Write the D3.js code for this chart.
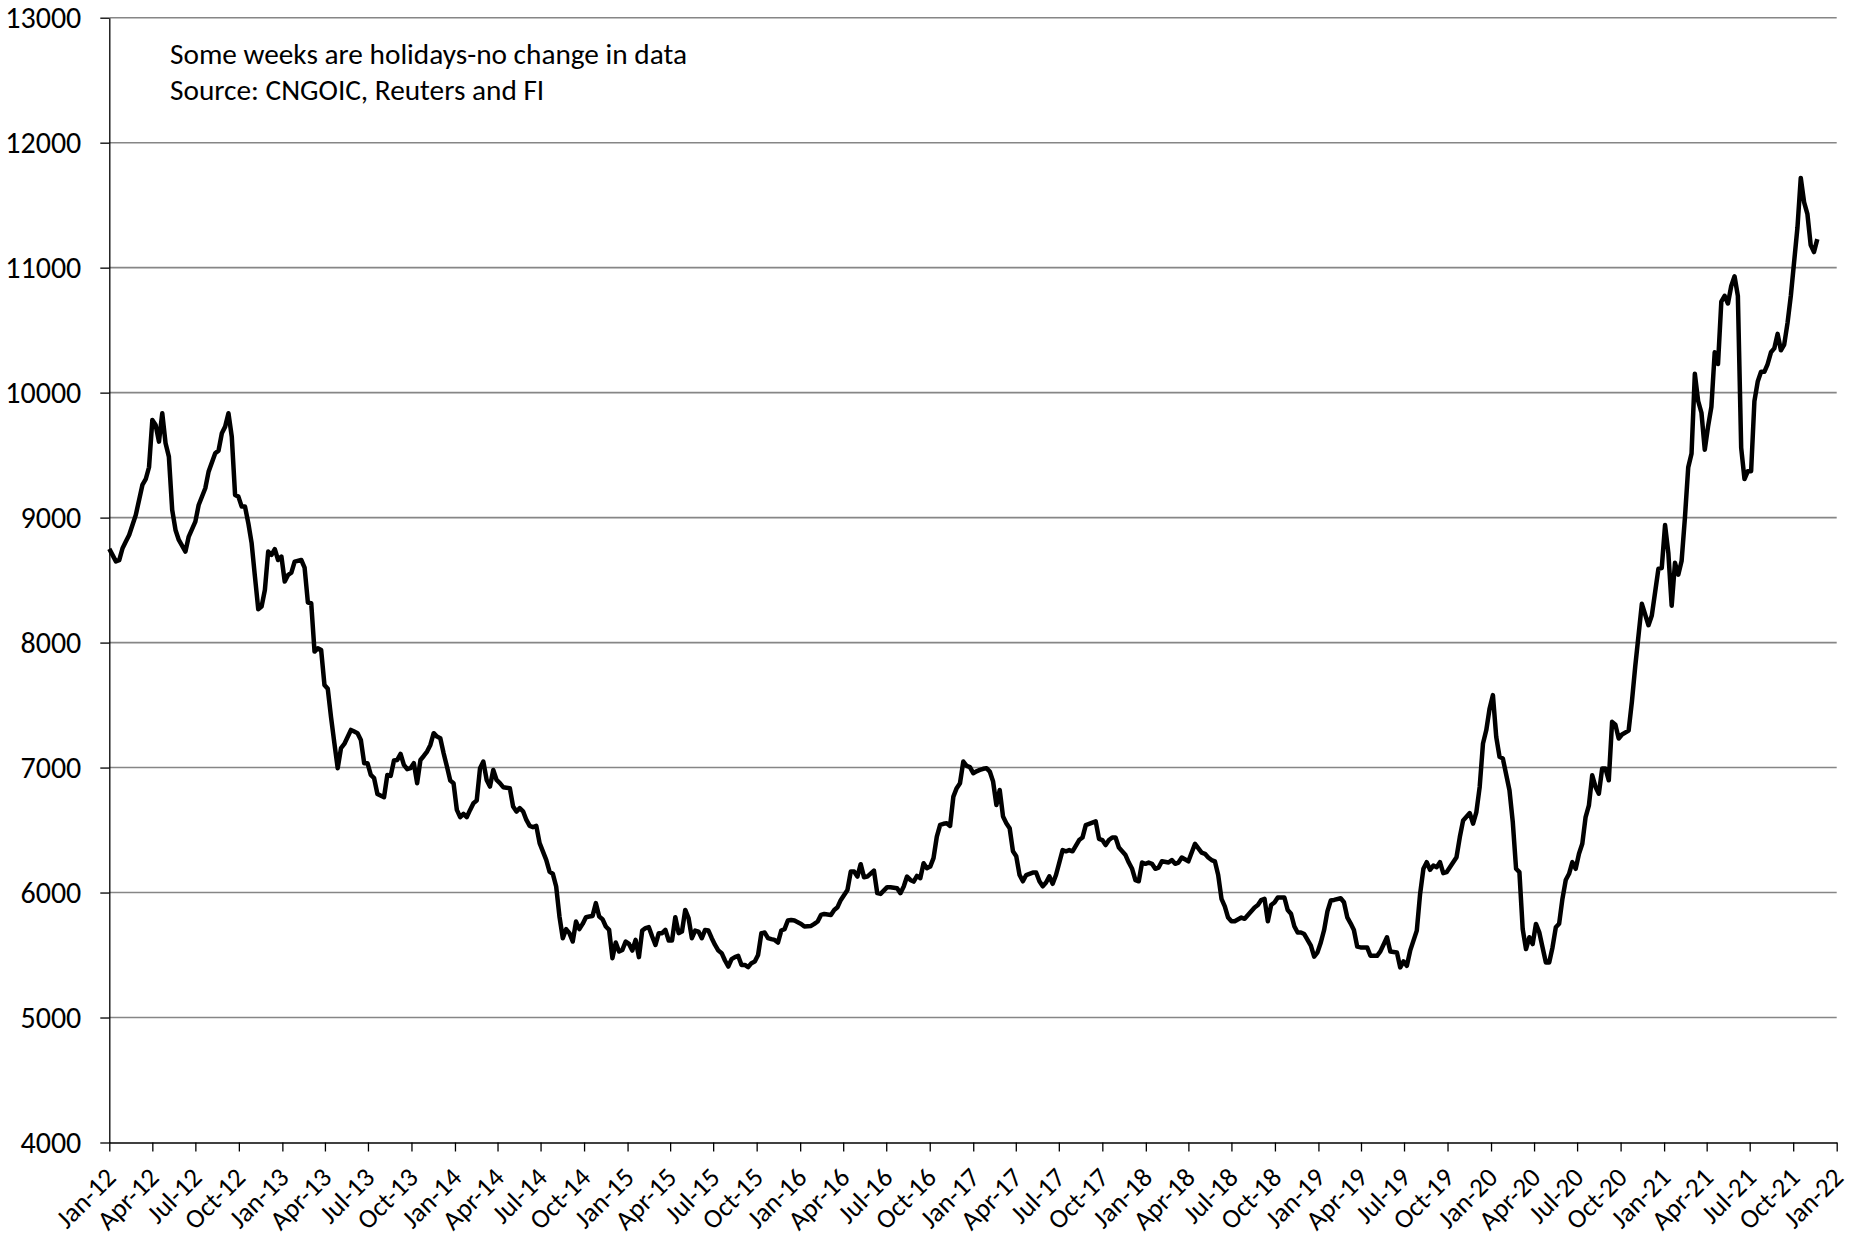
<!DOCTYPE html>
<html><head><meta charset="utf-8">
<script src="https://cdn.jsdelivr.net/npm/d3@7"></script>
<style>
html,body{margin:0;padding:0;background:#fff;}
svg{display:block;}
</style>
</head><body>
<svg id="chart" width="1860" height="1242"></svg>
<script>
// ---- data (weekly observations; week number counted from 1 Jan 2012) ----
const weekNo = [0,2,3,4,5,6,8,9,10,11,12,13,14,15,16,17,18,19,20,21,23,24,26,27,29,30,32,33,34,35,36,37,38,39,40,41,42,43,44,45,46,47,48,49,50,51,52,53,54,55,56,58,59,60,61,62,63,64,65,66,67,68,69,70,71,73,74,75,76,77,78,79,80,81,83,84,85,86,87,88,89,90,91,92,93,94,95,96,97,98,99,100,101,102,103,104,105,106,107,108,109,110,111,112,113,114,115,116,117,118,119,121,122,123,124,125,126,127,128,129,130,132,133,134,135,136,137,138,139,140,141,142,143,144,145,146,147,148,149,150,151,152,153,154,155,156,157,158,159,160,161,162,163,164,165,166,167,168,169,170,171,172,173,174,175,176,177,178,179,180,181,182,183,184,185,186,187,188,189,190,191,192,193,194,195,196,197,198,199,200,201,202,203,204,205,206,207,209,210,212,213,214,215,216,218,219,220,221,222,223,224,225,226,227,228,229,231,232,233,235,236,238,239,240,241,242,243,244,245,246,247,248,249,250,251,252,253,254,255,256,257,258,259,260,261,262,263,264,265,266,267,268,269,270,271,272,273,274,275,276,277,279,280,281,282,283,284,285,286,287,288,289,290,291,293,294,295,296,297,298,299,300,301,302,303,304,305,306,307,308,309,310,311,312,313,314,315,316,317,318,320,321,322,323,324,326,328,330,331,332,333,334,335,336,337,338,339,340,342,343,344,345,346,347,348,349,350,351,352,353,355,356,357,358,359,360,361,363,364,365,366,367,368,369,370,372,373,374,375,376,377,378,380,381,383,384,386,387,389,390,391,392,393,395,396,397,398,399,400,401,402,403,404,405,407,408,409,411,412,413,414,415,416,417,418,419,420,421,423,424,425,426,427,428,429,430,431,432,433,434,435,436,437,438,439,440,441,442,443,444,445,446,447,448,449,450,451,452,453,454,455,456,457,459,460,461,463,465,466,467,468,469,470,471,472,473,474,475,476,477,478,479,480,481,482,483,484,485,486,487,488,489,490,491,492,493,494,495,496,497,498,499,500,501,502,503,504,505,506,507,508,510,511,512,513,514,515,516];
const price = [8750,8650,8660,8755,8808,8861,9021,9141,9261,9307,9403,9781,9741,9608,9835,9595,9488,9061,8901,8821,8728,8848,8968,9101,9235,9368,9515,9536,9675,9728,9835,9648,9181,9168,9088,9088,8955,8795,8528,8267,8288,8421,8728,8701,8747,8661,8688,8488,8541,8560,8648,8661,8600,8320,8315,7928,7955,7941,7661,7630,7400,7195,6995,7155,7189,7301,7288,7275,7221,7035,7035,6941,6915,6789,6763,6941,6933,7056,7061,7109,7021,6987,6995,7035,6875,7061,7093,7128,7181,7275,7248,7235,7115,7008,6896,6875,6661,6603,6629,6603,6661,6715,6736,6995,7048,6901,6848,6981,6901,6875,6843,6835,6688,6648,6675,6650,6581,6533,6523,6533,6395,6261,6168,6149,6048,5808,5635,5707,5675,5608,5768,5707,5749,5803,5808,5813,5915,5808,5787,5728,5701,5475,5600,5528,5541,5608,5589,5536,5621,5483,5696,5715,5723,5648,5581,5675,5675,5701,5616,5616,5803,5675,5688,5861,5795,5635,5696,5688,5635,5701,5696,5635,5581,5536,5515,5456,5408,5467,5483,5493,5421,5421,5403,5435,5448,5501,5675,5680,5635,5627,5621,5600,5696,5707,5776,5781,5776,5749,5728,5733,5749,5768,5821,5829,5821,5861,5883,5941,5981,6021,6168,6168,6128,6227,6123,6128,6176,5995,5989,6043,6043,6035,5995,6048,6128,6101,6088,6133,6115,6235,6195,6208,6275,6448,6541,6550,6555,6533,6768,6835,6875,7048,7013,7003,6955,6970,6981,6990,6995,6968,6888,6701,6821,6608,6555,6515,6330,6290,6140,6090,6140,6160,6160,6090,6050,6080,6130,6070,6140,6240,6340,6330,6340,6330,6420,6440,6540,6550,6560,6570,6430,6420,6380,6420,6440,6440,6360,6330,6300,6240,6190,6100,6090,6240,6230,6240,6230,6190,6200,6250,6240,6260,6230,6240,6280,6250,6390,6320,6310,6280,6260,6250,6140,5950,5890,5800,5770,5770,5800,5790,5820,5850,5880,5900,5940,5950,5770,5900,5920,5960,5960,5860,5830,5730,5680,5680,5668,5575,5487,5521,5600,5700,5850,5936,5941,5954,5922,5802,5754,5700,5567,5561,5561,5494,5494,5529,5642,5529,5521,5401,5449,5414,5535,5695,5989,6190,6243,6182,6216,6203,6243,6155,6163,6203,6283,6444,6577,6636,6551,6644,6845,7193,7300,7473,7580,7246,7086,7072,6818,6564,6190,6163,5708,5548,5642,5588,5749,5682,5561,5441,5441,5561,5722,5750,5950,6100,6150,6243,6190,6310,6390,6604,6698,6938,6845,6791,6992,6992,6898,7366,7343,7233,7265,7296,7530,7811,8310,8139,8217,8404,8591,8597,8940,8716,8295,8638,8544,8653,8997,9402,9512,10151,9933,9839,9543,9730,9886,10323,10229,10729,10775,10713,10853,10931,10775,9558,9309,9371,9371,9933,10089,10167,10167,10229,10323,10354,10470,10339,10385,10557,10775,11321,11718,11524,11431,11181,11125,11228];
const yTickValues = [4000,5000,6000,7000,8000,9000,10000,11000,12000,13000];
const noteLines = ["Some weeks are holidays-no change in data", "Source: CNGOIC, Reuters and FI"];
const firstDay = new Date(2012, 0, 1);
const lastDay = new Date(2022, 0, 1);

const FONT = "Carlito, Calibri, Lato, 'Liberation Sans', sans-serif";
const svg = d3.select("#chart");

const x = d3.scaleTime().domain([firstDay, lastDay]).range([109.3, 1836.7]);
const y = d3.scaleLinear().domain([4000, 13000]).range([1142.5, 17.7]);

const series = weekNo.map((w, i) => ({date: d3.timeDay.offset(firstDay, 7 * w), value: price[i]}));

// gridlines
svg.append("g").selectAll("line")
  .data(yTickValues.filter(v => v > 4000))
  .join("line")
  .attr("x1", x.range()[0]).attr("x2", x.range()[1])
  .attr("y1", d => y(d)).attr("y2", d => y(d))
  .attr("stroke", "#868686").attr("stroke-width", 1.6);

// y axis
const gy = svg.append("g")
  .attr("transform", `translate(${x.range()[0]},0)`)
  .call(d3.axisLeft(y).tickValues(yTickValues).tickSize(9).tickSizeOuter(0).tickPadding(19).tickFormat(d3.format("d")));
gy.attr("font-family", FONT).attr("font-size", 30);
gy.select(".domain").attr("stroke", "#000").attr("stroke-width", 1.3);
gy.selectAll(".tick line").attr("stroke", "#000").attr("stroke-width", 1.3);
gy.selectAll(".tick text").attr("fill", "#000");

// x axis
const gx = svg.append("g")
  .attr("transform", `translate(0,${y(4000)})`)
  .call(d3.axisBottom(x).ticks(d3.timeMonth.every(3)).tickFormat(d3.timeFormat("%b-%y")).tickSize(9).tickSizeOuter(0));
gx.attr("font-family", FONT).attr("font-size", 27);
gx.select(".domain").attr("stroke", "#000").attr("stroke-width", 1.3);
gx.selectAll(".tick line").attr("stroke", "#000").attr("stroke-width", 1.3);
gx.selectAll(".tick text")
  .attr("fill", "#000")
  .attr("x", 0).attr("y", 0).attr("dy", "0.35em")
  .attr("text-anchor", "end")
  .attr("transform", "translate(1,30) rotate(-45)");

// data line
svg.append("path")
  .datum(series)
  .attr("fill", "none")
  .attr("stroke", "#000")
  .attr("stroke-width", 4.5)
  .attr("stroke-linejoin", "round")
  .attr("d", d3.line().x(d => x(d.date)).y(d => y(d.value)));

// note
svg.append("g").selectAll("text")
  .data(noteLines)
  .join("text")
  .attr("x", 170)
  .attr("y", (d, i) => 64 + i * 36)
  .attr("font-family", FONT)
  .attr("font-size", 29.3)
  .attr("fill", "#000")
  .text(d => d);
</script>
</body></html>
